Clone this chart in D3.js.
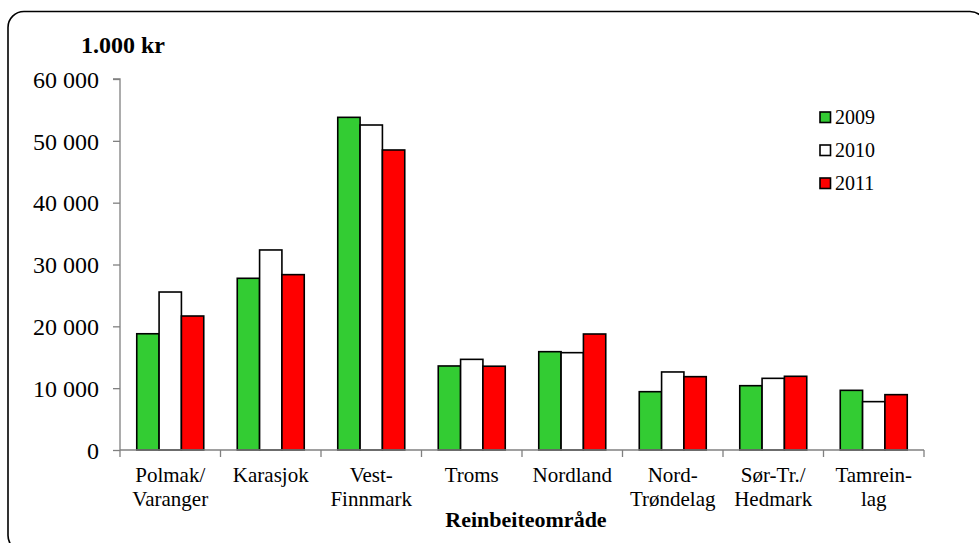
<!DOCTYPE html>
<html><head><meta charset="utf-8">
<script src="https://cdn.jsdelivr.net/npm/d3@7"></script>
<style>body{margin:0;background:#fff;overflow:hidden}svg{display:block}svg text{font-family:"Liberation Serif","Times New Roman","DejaVu Serif",serif}</style>
</head><body>
<svg id="c" width="979" height="543"></svg>
<script>
const categories = [["Polmak/","Varanger"],["Karasjok"],["Vest-","Finnmark"],["Troms"],["Nordland"],["Nord-","Trøndelag"],["Sør-Tr./","Hedmark"],["Tamrein-","lag"]];
const seriesNames = ["2009","2010","2011"];
const v2009 = [18800, 27770, 53800, 13590, 15900, 9430, 10400, 9650];
const v2010 = [25550, 32350, 52560, 14660, 15740, 12620, 11590, 7820];
const v2011 = [21670, 28360, 48520, 13550, 18760, 11860, 11920, 8950];
const yTicks = [0, 10000, 20000, 30000, 40000, 50000, 60000];
const colors = ["#33cc33", "#ffffff", "#ff0000"];

const series = [v2009, v2010, v2011];
const svg = d3.select("#c");
const font = '"Liberation Serif","Times New Roman","DejaVu Serif",serif';

svg.append("rect").attr("x", 8).attr("y", 11.5).attr("width", 978).attr("height", 540)
  .attr("rx", 16).attr("fill", "#fff").attr("stroke", "#000").attr("stroke-width", 1.6);

const x0 = 120, x1 = 924, yb = 450, yt = 79;
const x = d3.scaleBand().domain(d3.range(categories.length)).range([x0, x1]).paddingInner(0).paddingOuter(0);
const xs = d3.scaleBand().domain(d3.range(3)).range([0, x.bandwidth()]).paddingInner(0).paddingOuter(0.75);
const y = d3.scaleLinear().domain([0, 60000]).range([yb, yt]);

// y axis
const ya = svg.append("g").attr("transform", `translate(${x0},0)`)
  .call(d3.axisLeft(y).tickValues(yTicks).tickSize(7).tickPadding(14)
    .tickFormat(d => d3.format(",")(d).replace(/,/g, " ")));
ya.attr("font-family", null).attr("font-size", null);
ya.select(".domain").attr("stroke", "#808080").attr("stroke-width", 1.3).attr("d", `M-7,${yt}H0V${yb}`);
ya.selectAll(".tick line").attr("stroke", "#808080").attr("stroke-width", 1.3);
ya.selectAll("text").style("font-family", font).style("font-size", "24px").attr("fill", "#000").attr("dy", "0.34em");

// bars
const g = svg.append("g");
categories.forEach((c, i) => {
  series.forEach((s, j) => {
    g.append("rect")
      .attr("x", x(i) + xs(j)).attr("width", xs.bandwidth())
      .attr("y", y(s[i])).attr("height", yb - y(s[i]))
      .attr("fill", colors[j]).attr("stroke", "#000").attr("stroke-width", 1.6);
  });
});

// x axis
const xa = svg.append("g");
xa.append("line").attr("x1", x0).attr("x2", x1).attr("y1", yb).attr("y2", yb).attr("stroke", "#808080").attr("stroke-width", 1.3);
d3.range(categories.length + 1).forEach(i => {
  const xx = i < categories.length ? x(i) : x1;
  xa.append("line").attr("x1", xx).attr("x2", xx).attr("y1", yb).attr("y2", yb + 7).attr("stroke", "#808080").attr("stroke-width", 1.3);
});
categories.forEach((c, i) => {
  const t = xa.append("text").style("font-family", font).style("font-size", "21px").attr("text-anchor", "middle");
  c.forEach((line, k) => {
    t.append("tspan").attr("x", x(i) + x.bandwidth() / 2).attr("y", 481.5 + k * 24).text(line);
  });
});

svg.append("text").attr("x", 526).attr("y", 527).attr("text-anchor", "middle")
  .style("font-family", font).style("font-size", "22px").attr("font-weight", "bold").text("Reinbeiteområde");
svg.append("text").attr("x", 81).attr("y", 53).style("font-family", font)
  .style("font-size", "24px").attr("font-weight", "bold").text("1.000 kr");

// legend
const lg = svg.append("g");
seriesNames.forEach((n, j) => {
  const by = 124 + j * 33;
  lg.append("rect").attr("x", 820).attr("y", by - 12).attr("width", 10.5).attr("height", 10.5)
    .attr("fill", colors[j]).attr("stroke", "#000").attr("stroke-width", 1.6);
  lg.append("text").attr("x", 835).attr("y", by).style("font-family", font).style("font-size", "20px").text(n);
});
</script>
</body></html>
